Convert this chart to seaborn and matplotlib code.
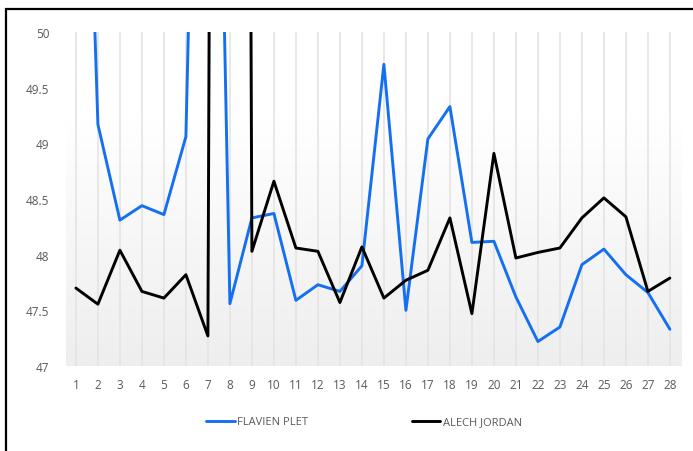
import numpy as np
import pandas as pd
import seaborn as sns
import matplotlib.pyplot as plt
from matplotlib.patches import Rectangle
from matplotlib.lines import Line2D

laps = list(range(1, 29))
flavien_plet = [55.3, 49.17, 48.31, 48.44, 48.36, 49.06, 57.5, 47.56, 48.33, 48.37,
                47.59, 47.73, 47.67, 47.90, 49.71, 47.50, 49.04, 49.33, 48.11, 48.12,
                47.62, 47.22, 47.35, 47.91, 48.05, 47.82, 47.66, 47.33]
alech_jordan = [47.70, 47.555, 48.04, 47.67, 47.61, 47.82, 47.27, 95.0, 48.03, 48.66,
                48.06, 48.03, 47.57, 48.07, 47.61, 47.77, 47.86, 48.33, 47.47, 48.91,
                47.97, 48.02, 48.06, 48.33, 48.51, 48.34, 47.67, 47.79]
y_ticks = [47, 47.5, 48, 48.5, 49, 49.5, 50]
series_names = ["FLAVIEN PLET", "ALECH JORDAN"]
palette = {"FLAVIEN PLET": "#1470F0", "ALECH JORDAN": "#000000"}

df = pd.DataFrame({
    "Lap": laps * 2,
    "Time": flavien_plet + alech_jordan,
    "Driver": [series_names[0]] * len(laps) + [series_names[1]] * len(laps),
})

sns.set_style("white")
plt.rcParams["font.family"] = ["Open Sans", "DejaVu Sans"]

W, H = 693, 452
fig = plt.figure(figsize=(W / 100, H / 100), dpi=100)
ax = fig.add_axes([66 / W, 1 - 367 / H, (682 - 66) / W, (367 - 33) / H])

# background gradient (white at top, light grey at bottom)
grad = np.linspace(1.0, 0.0, 256).reshape(-1, 1)
grad = np.clip(grad * 1.35, 0, 1)
ax.imshow(grad, extent=[0, 1, 0, 1], transform=ax.transAxes, aspect="auto",
          cmap=sns.blend_palette(["#eeeeee", "#ffffff"], as_cmap=True),
          zorder=0, vmin=0, vmax=1)

for lap in laps:
    ax.axvline(lap, color="#e4e4e4", lw=1.2, zorder=1)

sns.lineplot(data=df, x="Lap", y="Time", hue="Driver", palette=palette,
             linewidth=2.1, legend=False, ax=ax, zorder=3)

ax.set_xlim(0.55, 28.55)
ax.set_ylim(47, 50)
ax.set_xticks(laps)
ax.set_yticks(y_ticks)
ax.set_yticklabels([f"{v:g}" for v in y_ticks])
ax.tick_params(axis="both", length=0, labelsize=8.5, colors="#595959")
ax.tick_params(axis="x", pad=9)
ax.tick_params(axis="y", pad=12)
ax.set_xlabel("")
ax.set_ylabel("")
for s in ax.spines.values():
    s.set_visible(False)

handles = [Line2D([0], [0], color=palette[n], lw=2.1) for n in series_names]
fig.legend(handles, series_names, loc="center", bbox_to_anchor=(364 / W, 1 - 423 / H),
           ncol=2, frameon=False, fontsize=8, handlelength=2.6, handletextpad=0.2,
           columnspacing=9.3, labelcolor="#595959")

fig.patches.append(Rectangle((6 / W, -0.1), 1.2, (H - 10) / H + 0.1,
                             transform=fig.transFigure, fill=False,
                             edgecolor="black", lw=1.6, figure=fig))

fig.savefig("out.png", dpi=100)
